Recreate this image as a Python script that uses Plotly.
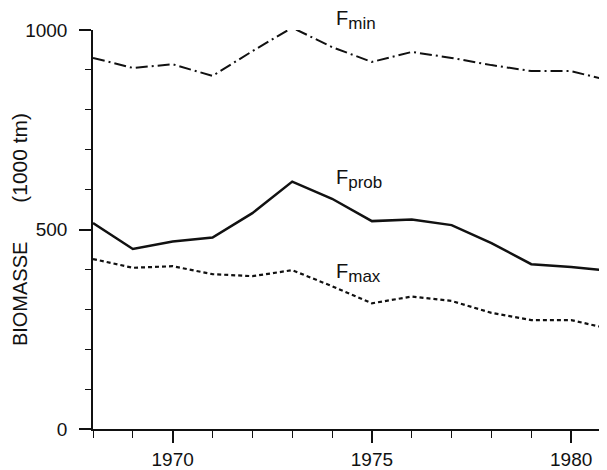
"""Biomass under three fishing mortality scenarios, 1968-1981."""

import plotly.graph_objects as go

YEARS = list(range(1968, 1982))
F_MIN = [930, 905, 914, 885, 947, 1006, 957, 920, 945, 930, 912, 897, 897, 872]
F_PROB = [516, 451, 470, 480, 541, 620, 577, 521, 525, 511, 466, 413, 406, 396]
F_MAX = [426, 404, 408, 388, 383, 398, 358, 315, 332, 321, 291, 273, 273, 250]

FONT = "Liberation Sans, Arial, Helvetica, sans-serif"
INK = "#111111"

fig = go.Figure()
fig.add_trace(go.Scatter(
    x=YEARS, y=F_MIN, mode="lines", name="Fmin",
    line=dict(color=INK, width=2, dash="12px,4px,2px,4px"),
))
fig.add_trace(go.Scatter(
    x=YEARS, y=F_PROB, mode="lines", name="Fprob",
    line=dict(color=INK, width=2.5),
))
fig.add_trace(go.Scatter(
    x=YEARS, y=F_MAX, mode="lines", name="Fmax",
    line=dict(color=INK, width=2.2, dash="4px,3px"),
))


def label(name):
    return f"F<sub><span style='font-size:17px'>{name}</span></sub>"


# curve labels, paper coords so the top one can sit above the axis
for text, x, y in [(label("min"), 0.468, 1.024),
                   (label("prob"), 0.468, 0.627),
                   (label("max"), 0.468, 0.392)]:
    fig.add_annotation(
        text=text, x=x, y=y, xref="paper", yref="paper", showarrow=False,
        xanchor="left", yanchor="middle",
        font=dict(family=FONT, size=20, color=INK),
    )

# page body has an 8px margin, so the figure is sized to fill the rest
fig.update_layout(
    width=599, height=462,
    margin=dict(l=85, r=0, t=22, b=41),
    paper_bgcolor="white", plot_bgcolor="white",
    showlegend=False,
    font=dict(family=FONT, color=INK),
)
fig.update_xaxes(
    range=[1968, 1980.9], tick0=1970, dtick=5, automargin=False,
    ticks="outside", ticklen=12, tickwidth=1.5, tickcolor=INK,
    minor=dict(dtick=1, ticks="outside", ticklen=7, tickwidth=1.2, tickcolor=INK),
    showline=True, linecolor=INK, linewidth=1.5,
    showgrid=False, zeroline=False,
    tickfont=dict(size=19, color=INK), ticklabelstandoff=0,
)
fig.update_yaxes(
    range=[0, 1000], tick0=0, dtick=500, automargin=False,
    ticks="outside", ticklen=12, tickwidth=1.5, tickcolor=INK,
    minor=dict(dtick=100, ticks="outside", ticklen=6, tickwidth=1.2, tickcolor=INK),
    showline=True, linecolor=INK, linewidth=1.5,
    showgrid=False, zeroline=False,
    tickfont=dict(size=19, color=INK), ticklabelstandoff=8,
    title=dict(text="BIOMASSE" + "&nbsp;" * 7 +
                    "<span style='font-size:21px'>(1000 tm)</span>",
               font=dict(size=20, color=INK), standoff=0),
)

fig.write_html("out.html")
